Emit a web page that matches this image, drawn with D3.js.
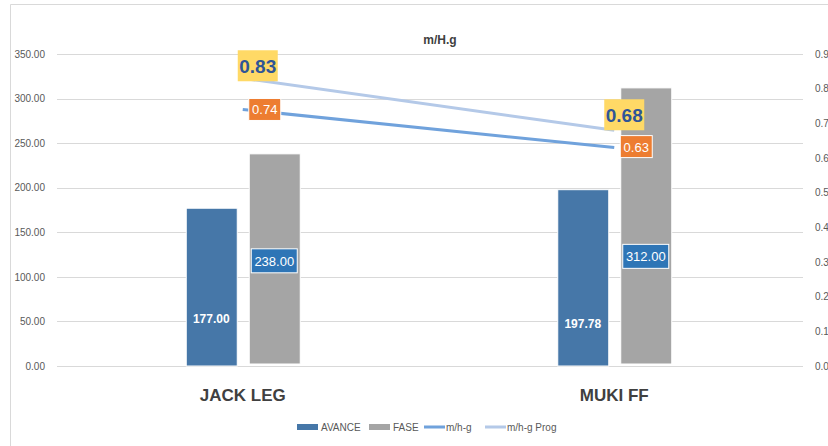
<!DOCTYPE html>
<html>
<head>
<meta charset="utf-8">
<script src="https://cdn.jsdelivr.net/npm/d3@7"></script>
<style>
	body { margin: 0; background: #fff; }
	text { font-family: "Liberation Sans Narrow", "Liberation Sans", Arial, sans-serif; }
</style>
</head>
<body>
<div class="chart"></div>
<script>
var categories = ['JACK LEG', 'MUKI FF'];
var avance = [177.00, 197.78];
var fase = [238.00, 312.00];
var mhg = [0.74, 0.63];
var mhgProg = [0.83, 0.68];
var leftTicks = [0, 50, 100, 150, 200, 250, 300, 350];
var rightTicks = [0, 0.1, 0.2, 0.3, 0.4, 0.5, 0.6, 0.7, 0.8, 0.9];

var w = 828,
	h = 446,
	plotLeft = 57,
	plotRight = 800,
	plotTop = 54,
	plotBottom = 366;

var svg = d3.select('.chart')
	.append('svg')
	.attr('width', w)
	.attr('height', h);

// chart border
svg.append('path')
	.attr('d', 'M10.5,' + h + 'V4.5H' + w)
	.attr('fill', 'none')
	.attr('stroke', '#d9d9d9');

var x = d3.scaleBand()
	.domain(categories)
	.range([plotLeft, plotRight]);

var y = d3.scaleLinear()
	.domain([0, 350])
	.range([plotBottom, plotTop]);

var y2 = d3.scaleLinear()
	.domain([0, 0.9])
	.range([plotBottom, plotTop]);

// grid
svg.append('g')
	.selectAll('line')
	.data(leftTicks)
	.enter()
	.append('line')
	.attr('x1', plotLeft)
	.attr('x2', plotRight + 3)
	.attr('y1', function(d) { return Math.round(y(d)) + 0.5; })
	.attr('y2', function(d) { return Math.round(y(d)) + 0.5; })
	.attr('stroke', '#d9d9d9');

var leftAxis = svg.append('g')
	.attr('transform', 'translate(' + (plotLeft - 9) + ',0)')
	.call(d3.axisLeft(y).tickValues(leftTicks).tickSize(0).tickFormat(d3.format('.2f')));
leftAxis.select('.domain').remove();
leftAxis.selectAll('text').attr('fill', '#595959').attr('font-size', 10);

var rightAxis = svg.append('g')
	.attr('transform', 'translate(' + (plotRight + 12) + ',0)')
	.call(d3.axisRight(y2).tickValues(rightTicks).tickSize(0).tickFormat(d3.format('.2f')));
rightAxis.select('.domain').remove();
rightAxis.selectAll('text').attr('fill', '#595959').attr('font-size', 10);

// title
svg.append('text')
	.attr('x', 440)
	.attr('y', 44)
	.attr('text-anchor', 'middle')
	.attr('font-size', 12)
	.attr('font-weight', 'bold')
	.attr('fill', '#404040')
	.text('m/H.g');

var barW = 51,
	gap = 12;

var bars = svg.append('g');

bars.selectAll('rect.avance')
	.data(avance)
	.enter()
	.append('rect')
	.attr('class', 'avance')
	.attr('x', function(d, i) { return x(categories[i]) + x.bandwidth() / 2 - barW - gap / 2 + 0.5; })
	.attr('y', function(d) { return y(d); })
	.attr('width', barW)
	.attr('height', function(d) { return plotBottom - y(d); })
	.attr('fill', '#4677a8')
	.attr('stroke', '#fff');

bars.selectAll('rect.fase')
	.data(fase)
	.enter()
	.append('rect')
	.attr('class', 'fase')
	.attr('x', function(d, i) { return x(categories[i]) + x.bandwidth() / 2 + gap / 2 + 0.5; })
	.attr('y', function(d) { return y(d); })
	.attr('width', barW)
	.attr('height', function(d) { return plotBottom - y(d) - 2; })
	.attr('fill', '#a5a5a5')
	.attr('stroke', '#fff');

// bar labels
var avanceLabelAt = [53, 47];
var faseLabelAt = [118, 123];

bars.selectAll('text.avance')
	.data(avance)
	.enter()
	.append('text')
	.attr('x', function(d, i) { return x(categories[i]) + x.bandwidth() / 2 - barW / 2 - gap / 2; })
	.attr('y', function(d, i) { return y(avanceLabelAt[i]) + 4; })
	.attr('text-anchor', 'middle')
	.attr('font-size', 12)
	.attr('font-weight', 'bold')
	.attr('fill', '#fff')
	.text(d3.format('.2f'));

var faseLbl = bars.selectAll('g.fase')
	.data(fase)
	.enter()
	.append('g')
	.attr('transform', function(d, i) {
		return 'translate(' + (x(categories[i]) + x.bandwidth() / 2 + barW / 2 + gap / 2) + ',' + y(faseLabelAt[i]) + ')';
	});
faseLbl.append('rect')
	.attr('x', -23)
	.attr('y', -12)
	.attr('width', 46)
	.attr('height', 24)
	.attr('fill', '#2e75b6')
	.attr('stroke', '#fff');
faseLbl.append('text')
	.attr('text-anchor', 'middle')
	.attr('y', 5)
	.attr('font-size', 13)
	.attr('fill', '#fff')
	.text(d3.format('.2f'));

// lines
var cx = function(d, i) { return x(categories[i]) + x.bandwidth() / 2; };

var line = d3.line()
	.x(cx)
	.y(function(d) { return y2(d); });

svg.append('path')
	.datum(mhgProg)
	.attr('d', line)
	.attr('fill', 'none')
	.attr('stroke', '#b4c9e8')
	.attr('stroke-width', 3);

svg.append('path')
	.datum(mhg)
	.attr('d', line)
	.attr('fill', 'none')
	.attr('stroke', '#70a2dc')
	.attr('stroke-width', 3);

// line labels
var progOffset = [[15, -12], [10, -15]];
var mhgOffset = [[22, 0], [22, -1]];

var progLbl = svg.selectAll('g.prog')
	.data(mhgProg)
	.enter()
	.append('g')
	.attr('transform', function(d, i) {
		return 'translate(' + (cx(d, i) + progOffset[i][0]) + ',' + (y2(d) + progOffset[i][1]) + ')';
	});
progLbl.append('rect')
	.attr('x', -20)
	.attr('y', -16)
	.attr('width', 40)
	.attr('height', 31)
	.attr('fill', '#ffd966');
progLbl.append('text')
	.attr('text-anchor', 'middle')
	.attr('y', 7)
	.attr('font-size', 19)
	.attr('font-weight', 'bold')
	.attr('fill', '#2f5597')
	.text(d3.format('.2f'));

var mhgLbl = svg.selectAll('g.mhg')
	.data(mhg)
	.enter()
	.append('g')
	.attr('transform', function(d, i) {
		return 'translate(' + (cx(d, i) + mhgOffset[i][0]) + ',' + (y2(d) + mhgOffset[i][1]) + ')';
	});
mhgLbl.append('rect')
	.attr('x', -16)
	.attr('y', -11)
	.attr('width', 32)
	.attr('height', 22)
	.attr('fill', '#ed7d31')
	.attr('stroke', '#fff');
mhgLbl.append('text')
	.attr('text-anchor', 'middle')
	.attr('y', 5)
	.attr('font-size', 13)
	.attr('fill', '#fff')
	.text(d3.format('.2f'));

// category labels
svg.selectAll('text.cat')
	.data(categories)
	.enter()
	.append('text')
	.attr('x', function(d) { return x(d) + x.bandwidth() / 2; })
	.attr('y', 401)
	.attr('text-anchor', 'middle')
	.attr('font-size', 17)
	.attr('font-weight', 'bold')
	.attr('fill', '#404040')
	.text(function(d) { return d; });

// legend
var legend = [
	{ name: 'AVANCE', color: '#4677a8', type: 'bar', x: 297 },
	{ name: 'FASE', color: '#a5a5a5', type: 'bar', x: 369 },
	{ name: 'm/h-g', color: '#70a2dc', type: 'line', x: 424 },
	{ name: 'm/h-g Prog', color: '#b4c9e8', type: 'line', x: 485 }
];

var lg = svg.selectAll('g.legend')
	.data(legend)
	.enter()
	.append('g')
	.attr('transform', function(d) { return 'translate(' + d.x + ',427)'; });
lg.append('rect')
	.attr('x', 0)
	.attr('y', function(d) { return d.type === 'bar' ? -3 : -1.5; })
	.attr('width', 21)
	.attr('height', function(d) { return d.type === 'bar' ? 6 : 3; })
	.attr('fill', function(d) { return d.color; });
lg.append('text')
	.attr('x', function(d) { return d.type === 'bar' ? 24 : 22; })
	.attr('y', 4)
	.attr('font-size', 10)
	.attr('fill', '#595959')
	.text(function(d) { return d.name; });
</script>
</body>
</html>
